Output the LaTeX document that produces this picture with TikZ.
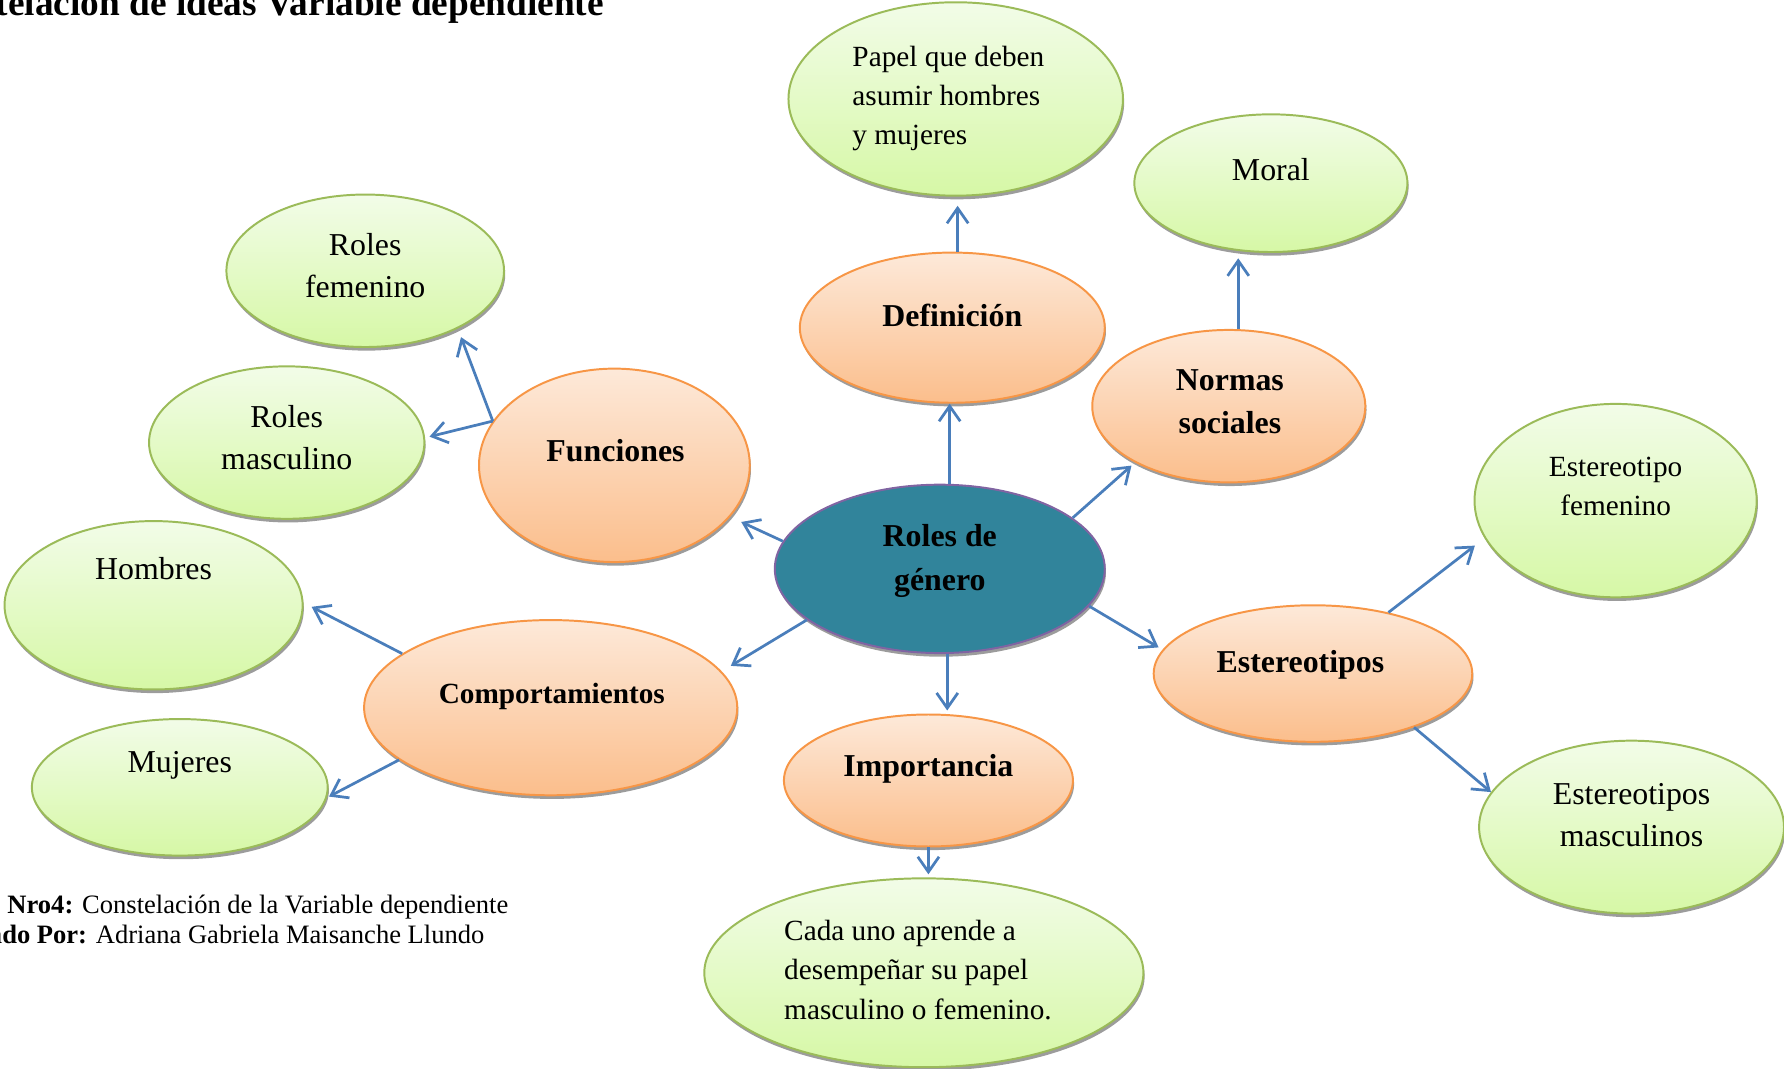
\documentclass[tikz,border=0pt]{standalone}
\usepackage{fontspec}
\setmainfont{Liberation Serif}
\usetikzlibrary{shapes.geometric,arrows.meta,shadows}
\definecolor{grnB}{HTML}{9BBB59}
\definecolor{grnT}{HTML}{F2FCE8}
\definecolor{grnD}{HTML}{D6F8A6}
\definecolor{orgB}{HTML}{F79646}
\definecolor{orgT}{HTML}{FDE9D9}
\definecolor{orgD}{HTML}{FBBE8C}
\definecolor{tealF}{HTML}{31849B}
\definecolor{purB}{HTML}{8064A2}
\definecolor{arrC}{HTML}{4A7EBB}
\definecolor{shdC}{HTML}{9C9C9C}
\tikzset{
  shd/.style={drop shadow={shadow xshift=0.8pt,shadow yshift=-2.4pt,fill=shdC,opacity=1}},
  gell/.style={ellipse,draw=grnB,line width=1.3pt,top color=grnT,bottom color=grnD,shd,inner sep=0pt},
  oell/.style={ellipse,draw=orgB,line width=1.3pt,top color=orgT,bottom color=orgD,shd,inner sep=0pt},
  cell/.style={ellipse,draw=purB,line width=1.3pt,fill=tealF,shd,inner sep=0pt},
  tx/.style={inner sep=0pt,align=center,font=\fontsize{21}{27.75}\selectfont},
  txs/.style={inner sep=0pt,align=left,font=\fontsize{19.3}{25.9}\selectfont},
  txb/.style={inner sep=0pt,align=center,font=\fontsize{21}{28.5}\selectfont\bfseries},
  arr/.style={draw=arrC,line width=1.8pt,-{Straight Barb[length=10pt,width=14pt,line width=1.8pt]}},
}
\begin{document}
\begin{tikzpicture}[x=0.75pt,y=-0.75pt]
\useasboundingbox (0,0) rectangle (1568,938.7);
% title and caption
\node[inner sep=0pt,anchor=base west,font=\fontsize{24.6}{28}\selectfont\bfseries] (title) at (-4,14) {telación de ideas Variable dependiente};
\node[inner sep=0pt,anchor=base east,font=\fontsize{17.5}{19.5}\selectfont] (cap1) at (447,803) {\textbf{Nro4:} Constelación de la Variable dependiente};
\node[inner sep=0pt,anchor=base east,font=\fontsize{17.5}{19.5}\selectfont] (cap2) at (426,829) {\textbf{ado Por:} Adriana Gabriela Maisanche Llundo};
% green ellipses
\node[gell,minimum width=220.5pt,minimum height=127.5pt] (pap) at (840,87) {};
\node[gell,minimum width=180pt,minimum height=90.75pt] (mor) at (1117,161) {};
\node[gell,minimum width=183pt,minimum height=100.5pt] (rfe) at (321,238) {};
\node[gell,minimum width=181.5pt,minimum height=100.5pt] (rma) at (252,389) {};
\node[gell,minimum width=196.5pt,minimum height=111pt] (hom) at (135,532) {};
\node[gell,minimum width=195pt,minimum height=90pt] (muj) at (158,692) {};
\node[gell,minimum width=186pt,minimum height=127.5pt] (efe) at (1420,440) {};
\node[gell,minimum width=201pt,minimum height=114pt] (ema) at (1434,727) {};
\node[gell,minimum width=289.5pt,minimum height=124.5pt] (cad) at (812,855) {};
% orange ellipses
\node[oell,minimum width=201pt,minimum height=99pt] (def) at (837,288) {};
\node[oell,minimum width=180pt,minimum height=100.5pt] (nor) at (1080,357) {};
\node[oell,minimum width=178.5pt,minimum height=127.5pt] (fun) at (540,409) {};
\node[oell,minimum width=246pt,minimum height=115.5pt] (com) at (484,622) {};
\node[oell,minimum width=190.5pt,minimum height=87pt] (imp) at (816,686) {};
\node[oell,minimum width=210pt,minimum height=90pt] (est) at (1154,592) {};
% centre
\node[cell,minimum width=217.5pt,minimum height=111pt] (c) at (826,500) {};
% texts
\node[txs,anchor=west] (tpap) at (749,86.5) {Papel que deben\\asumir hombres\\y mujeres};
\node[txs,anchor=west] (tcad) at (689,852.5) {Cada uno aprende a\\desempeñar su papel\\masculino o femenino.};
\node[tx] (tmor) at (1117,149) {Moral};
\node[tx] (trfe) at (321,233.5) {Roles\\femenino};
\node[tx] (trma) at (252,384.5) {Roles\\masculino};
\node[tx] (thom) at (135,500) {Hombres};
\node[tx] (tmuj) at (158,673) {Mujeres};
\node[txs,align=center] (tefe) at (1420,427.5) {Estereotipo\\femenino};
\node[tx] (tema) at (1434,716.5) {Estereotipos\\masculinos};
\node[txb] (tdef) at (837,277) {Definición};
\node[txb] (tnor) at (1081,353) {Normas\\sociales};
\node[txb] (tfun) at (541,396) {Funciones};
\node[txb,font=\fontsize{19.3}{24}\selectfont\bfseries] (tcom) at (485,612) {Comportamientos};
\node[txb] (timp) at (816,676) {Importancia};
\node[txb] (test) at (1143,584) {Estereotipos};
\node[txb] (tc) at (826,493) {Roles de\\género};
% connectors
\draw[arr] (c.north -| def.268) -- (def.268);
\draw[arr,shorten >=6pt] (def.86) -- (def.86 |- pap.south);
\draw[arr,shorten >=3.5pt] (nor.83) -- (nor.83 |- mor.south);
\draw[arr,shorten >=3pt] (c.21) -- (nor.211);
\draw[arr,shorten >=8pt] (c.170) -- (fun.336);
\draw[arr,shorten >=6pt] (fun.160) -- (rfe.328);
\draw[arr,shorten >=3pt] (fun.160) -- (rma.2);
\draw[arr,shorten >=7pt] (c.201) -- (com.12);
\draw[arr,shorten >=6pt] (com.160) -- (hom.1);
\draw[arr,shorten >=1.5pt] (com.199) -- (muj.356);
\draw[arr,shorten >=2pt] (c.275) -- (c.275 |- imp.north);
\draw[arr,shorten >=2pt] (imp.south) -- (imp.south |- cad.north);
\draw[arr,shorten >=3pt] (c.346) -- (est.171.5);
\draw[arr,shorten >=8pt] (est.39) -- (efe.196);
\draw[arr] (est.332) -- (ema.166);
\end{tikzpicture}
\end{document}
